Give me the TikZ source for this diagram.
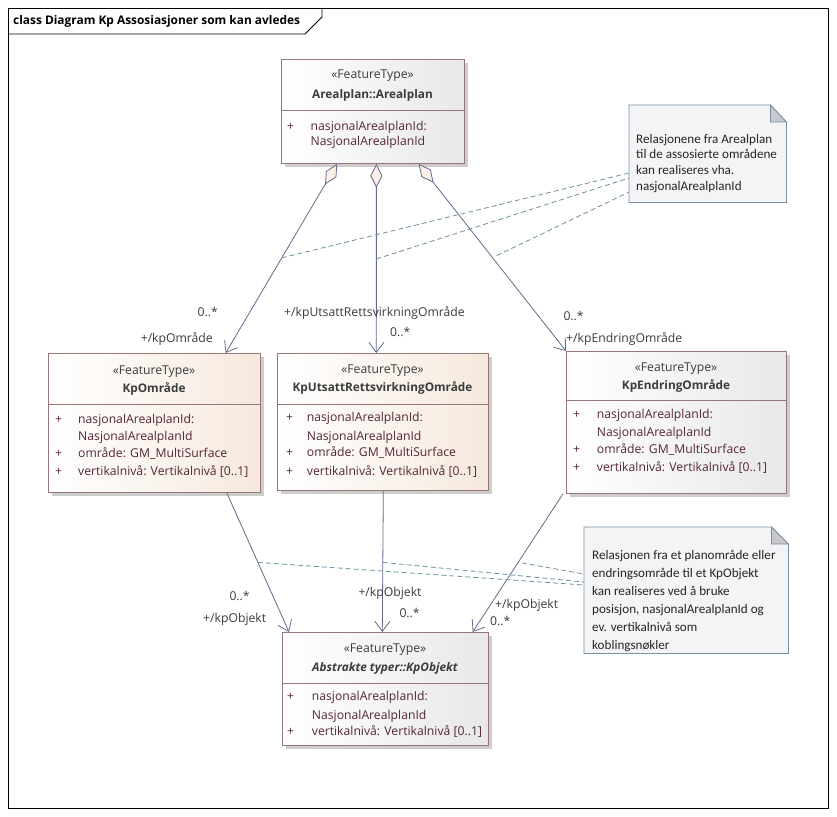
\documentclass[tikz,border=0pt]{standalone}
\usepackage{fontspec}
\setmainfont{Open Sans}
\newfontfamily\notefont{Carlito}
\usetikzlibrary{arrows.meta,calc}
\definecolor{lineC}{RGB}{100,106,138}
\definecolor{borderC}{RGB}{150,118,118}
\definecolor{attrC}{RGB}{85,38,55}
\definecolor{txtC}{RGB}{60,60,60}
\definecolor{dashC}{RGB}{110,145,160}
\definecolor{noteB}{RGB}{120,145,165}
\definecolor{noteF}{RGB}{244,244,246}
\definecolor{foldC}{RGB}{200,200,204}
\definecolor{beigeR}{RGB}{246,233,222}
\definecolor{grayR}{RGB}{232,232,232}
\definecolor{diaF}{RGB}{250,238,230}
\definecolor{shadowC}{RGB}{205,205,205}
\begin{document}
\begin{tikzpicture}[x=1pt,y=-1pt,
 every node/.style={inner sep=0pt},
 classbox/.style={draw=borderC, line width=0.8pt, anchor=north west, left color=white},
 beige/.style={right color=beigeR},
 grayish/.style={right color=grayR},
 ctext/.style={font=\fontsize{12.2}{14}\selectfont},
 stereo/.style={ctext, text=txtC, anchor=base},
 cname/.style={font=\fontsize{11.8}{14}\selectfont\bfseries, text=txtC, anchor=base},
 plus/.style={ctext, text=attrC, anchor=base west},
 attr/.style={ctext, text=attrC, anchor=base west},
 lbl/.style={ctext, text=txtC},
 assoc/.style={draw=lineC, line width=0.8pt, {Diamond[length=24pt,width=12pt,fill=diaF]}-{Straight Barb[length=10pt,width=15pt]}},
 nav/.style={draw=lineC, line width=0.8pt, -{Straight Barb[length=10pt,width=15pt]}},
 notelink/.style={draw=dashC, line width=0.8pt, dash pattern=on 5pt off 3pt},
 notebox/.style={draw=none, anchor=north west},
 noteline/.style={font=\notefont\fontsize{13.1}{16}\selectfont, text=black!85, anchor=base west},
 shadow/.style={fill=shadowC, draw=none}
]
\path[fill=white] (0,0) rectangle (837,816);
% frame
\draw[black, line width=0.8pt] (8,8) rectangle (828,808);
\draw[black, line width=0.8pt] (8,34) -- (305,34) -- (322,17) -- (322,8);
\node[font=\fontsize{11.9}{13}\selectfont\bfseries, anchor=base west] (title) at (13,25) {class Diagram Kp Assosiasjoner som kan avledes};

% ---- Class A: Arealplan
\path[shadow] (285,63) rectangle (468,167);
\node[classbox, grayish, minimum width=183pt, minimum height=104pt] (A) at (281,59) {};
\draw[borderC, line width=0.8pt] (281,110) -- (464,110);
\node[stereo] (As) at (372.5,78.3) {«FeatureType»};
\node[cname] (An) at (372.5,98.3) {Arealplan::Arealplan};
\node[plus] (Ap1) at (287,130) {+};
\node[attr] (Aa1) at (310.5,130) {nasjonalArealplanId:};
\node[attr] (Aa2) at (310.5,145.5) {NasjonalArealplanId};

% ---- Class B: KpOmråde
\path[shadow] (52,357) rectangle (264,496);
\node[classbox, beige, minimum width=212pt, minimum height=139pt] (B) at (48,353) {};
\draw[borderC, line width=0.8pt] (48,404) -- (260,404);
\node[stereo] (Bs) at (154,374) {«FeatureType»};
\node[cname] (Bn) at (154,392) {KpOmråde};
\node[plus] (Bp1) at (55,423) {+};
\node[attr] (Ba1) at (78,423) {nasjonalArealplanId:};
\node[attr] (Ba2) at (78,440.7) {NasjonalArealplanId};
\node[plus] (Bp3) at (55,457.7) {+};
\node[attr] (Ba3) at (78,457.7) {område: GM\_MultiSurface};
\node[plus] (Bp4) at (55,475.7) {+};
\node[attr] (Ba4) at (78,475.7) {vertikalnivå: Vertikalnivå [0..1]};

% ---- Class C: KpUtsattRettsvirkningOmråde
\path[shadow] (281,357) rectangle (492,494);
\node[classbox, beige, minimum width=211pt, minimum height=137pt] (C) at (277,353) {};
\draw[borderC, line width=0.8pt] (277,404) -- (488,404);
\node[stereo] (Cs) at (382.5,373.3) {«FeatureType»};
\node[cname] (Cn) at (382.5,391.7) {KpUtsattRettsvirkningOmråde};
\node[plus] (Cp1) at (286,421.7) {+};
\node[attr] (Ca1) at (306.7,421.7) {nasjonalArealplanId:};
\node[attr] (Ca2) at (306.7,440) {NasjonalArealplanId};
\node[plus] (Cp3) at (286,456.7) {+};
\node[attr] (Ca3) at (306.7,456.7) {område: GM\_MultiSurface};
\node[plus] (Cp4) at (286,475) {+};
\node[attr] (Ca4) at (306.7,475) {vertikalnivå: Vertikalnivå [0..1]};

% ---- Class D: KpEndringOmråde
\path[shadow] (570,355) rectangle (790,497);
\node[classbox, grayish, minimum width=220pt, minimum height=142pt] (D) at (566,351) {};
\draw[borderC, line width=0.8pt] (566,400) -- (786,400);
\node[stereo] (Ds) at (676,371.7) {«FeatureType»};
\node[cname] (Dn) at (676,389.3) {KpEndringOmråde};
\node[plus] (Dp1) at (573,418.3) {+};
\node[attr] (Da1) at (596.7,418.3) {nasjonalArealplanId:};
\node[attr] (Da2) at (596.7,436.7) {NasjonalArealplanId};
\node[plus] (Dp3) at (573,453.3) {+};
\node[attr] (Da3) at (596.7,453.3) {område: GM\_MultiSurface};
\node[plus] (Dp4) at (573,471.7) {+};
\node[attr] (Da4) at (596.7,471.7) {vertikalnivå: Vertikalnivå [0..1]};

% ---- Class E: KpObjekt
\path[shadow] (286,636) rectangle (492,749);
\node[classbox, grayish, minimum width=206pt, minimum height=113pt] (E) at (282,632) {};
\draw[borderC, line width=0.8pt] (282,683) -- (488,683);
\node[stereo] (Es) at (385,652.7) {«FeatureType»};
\node[cname, font=\fontsize{11.8}{14}\selectfont\bfseries\itshape] (En) at (385,671) {Abstrakte typer::KpObjekt};
\node[plus] (Ep1) at (287,700) {+};
\node[attr] (Ea1) at (311.7,700) {nasjonalArealplanId:};
\node[attr] (Ea2) at (311.7,719.3) {NasjonalArealplanId};
\node[plus] (Ep3) at (287,735.7) {+};
\node[attr] (Ea3) at (311.7,735.7) {vertikalnivå: Vertikalnivå [0..1]};

% ---- Notes
\node[notebox, minimum width=157pt, minimum height=97pt] (N1) at (629,105) {};
\draw[draw=noteB, fill=noteF, line width=0.8pt] (N1.north west) -- ([xshift=-16pt]N1.north east) -- ([yshift=-17pt]N1.north east) -- (N1.south east) -- (N1.south west) -- cycle;
\draw[draw=noteB, fill=foldC, line width=0.8pt] ([xshift=-16pt]N1.north east) -- ([xshift=-16pt,yshift=-17pt]N1.north east) -- ([yshift=-17pt]N1.north east) -- cycle;
\node[noteline] (N1l1) at (636,143) {Relasjonene fra Arealplan};
\node[noteline] (N1l2) at (636,158.7) {til de assosierte områdene};
\node[noteline] (N1l3) at (636,174.4) {kan realiseres vha.};
\node[noteline] (N1l4) at (636,190) {nasjonalArealplanId};

\node[notebox, minimum width=204pt, minimum height=126pt] (N2) at (584,527) {};
\draw[draw=noteB, fill=noteF, line width=0.8pt] (N2.north west) -- ([xshift=-17pt]N2.north east) -- ([yshift=-17pt]N2.north east) -- (N2.south east) -- (N2.south west) -- cycle;
\draw[draw=noteB, fill=foldC, line width=0.8pt] ([xshift=-17pt]N2.north east) -- ([xshift=-17pt,yshift=-17pt]N2.north east) -- ([yshift=-17pt]N2.north east) -- cycle;
\node[noteline] (N2l1) at (592,559.3) {Relasjonen fra et planområde eller};
\node[noteline] (N2l2) at (592,577.4) {endringsområde til et KpObjekt};
\node[noteline] (N2l3) at (592,595.5) {kan realiseres ved å bruke};
\node[noteline] (N2l4) at (592,613.6) {posisjon, nasjonalArealplanId og};
\node[noteline] (N2l5) at (592,631.7) {ev. vertikalnivå som};
\node[noteline] (N2l6) at (592,649.8) {koblingsnøkler};

% ---- Aggregations from Arealplan
\draw[assoc] ($(A.south west)!0.306!(A.south east)$) -- coordinate[pos=0.497] (m1) ($(B.north west)!0.835!(B.north east)$);
\draw[assoc] ($(A.south west)!0.519!(A.south east)$) -- coordinate[pos=0.503] (m2) ($(C.north west)!0.469!(C.north east)$);
\draw[assoc] ($(A.south west)!0.749!(A.south east)$) -- coordinate[pos=0.49] (m3) (D.north west);

% ---- Navigations to KpObjekt
\draw[nav] ($(B.south west)!0.84!(B.south east)$) -- coordinate[pos=0.5] (m4) ($(E.north west)!0.034!(E.north east)$);
\draw[nav] ($(C.south west)!0.502!(C.south east)$) -- coordinate[pos=0.507] (m5) ($(E.north west)!0.485!(E.north east)$);
\draw[nav] ([xshift=-3pt]D.south west) -- coordinate[pos=0.5] (m6) ($(E.north west)!0.922!(E.north east)$);

% ---- Note links
\draw[notelink] (m1) -- ([yshift=-68pt]N1.north west);
\draw[notelink] (m2) -- ([yshift=-73pt]N1.north west);
\draw[notelink] ([xshift=6pt]m3) -- ([yshift=-87pt]N1.north west);
\draw[notelink] (m4) -- ([yshift=-58pt]N2.north west);
\draw[notelink] (m5) -- ([yshift=-55pt]N2.north west);
\draw[notelink] ([xshift=4pt]m6) -- ([yshift=-47pt]N2.north west);

% ---- Role labels
\node[lbl, anchor=base east] (l1) at (218,316.7) {0..*};
\node[lbl, anchor=base east] (l2) at (213,342.7) {+/kpOmråde};
\node[lbl, anchor=base west] (l3) at (284,316) {+/kpUtsattRettsvirkningOmråde};
\node[lbl, anchor=base west] (l4) at (390,336.7) {0..*};
\node[lbl, anchor=base west] (l5) at (563.3,320) {0..*};
\node[lbl, anchor=base west] (l6) at (566,342.7) {+/kpEndringOmråde};
\node[lbl, anchor=base west] (l7) at (229.3,600) {0..*};
\node[lbl, anchor=base west] (l8) at (203,622.7) {+/kpObjekt};
\node[lbl, anchor=base west] (l9) at (358.3,596.7) {+/kpObjekt};
\node[lbl, anchor=base west] (l10) at (399.3,617.3) {0..*};
\node[lbl, anchor=base west] (l11) at (495,608.3) {+/kpObjekt};
\node[lbl, anchor=base west] (l12) at (490,625) {0..*};
\end{tikzpicture}
\end{document}
